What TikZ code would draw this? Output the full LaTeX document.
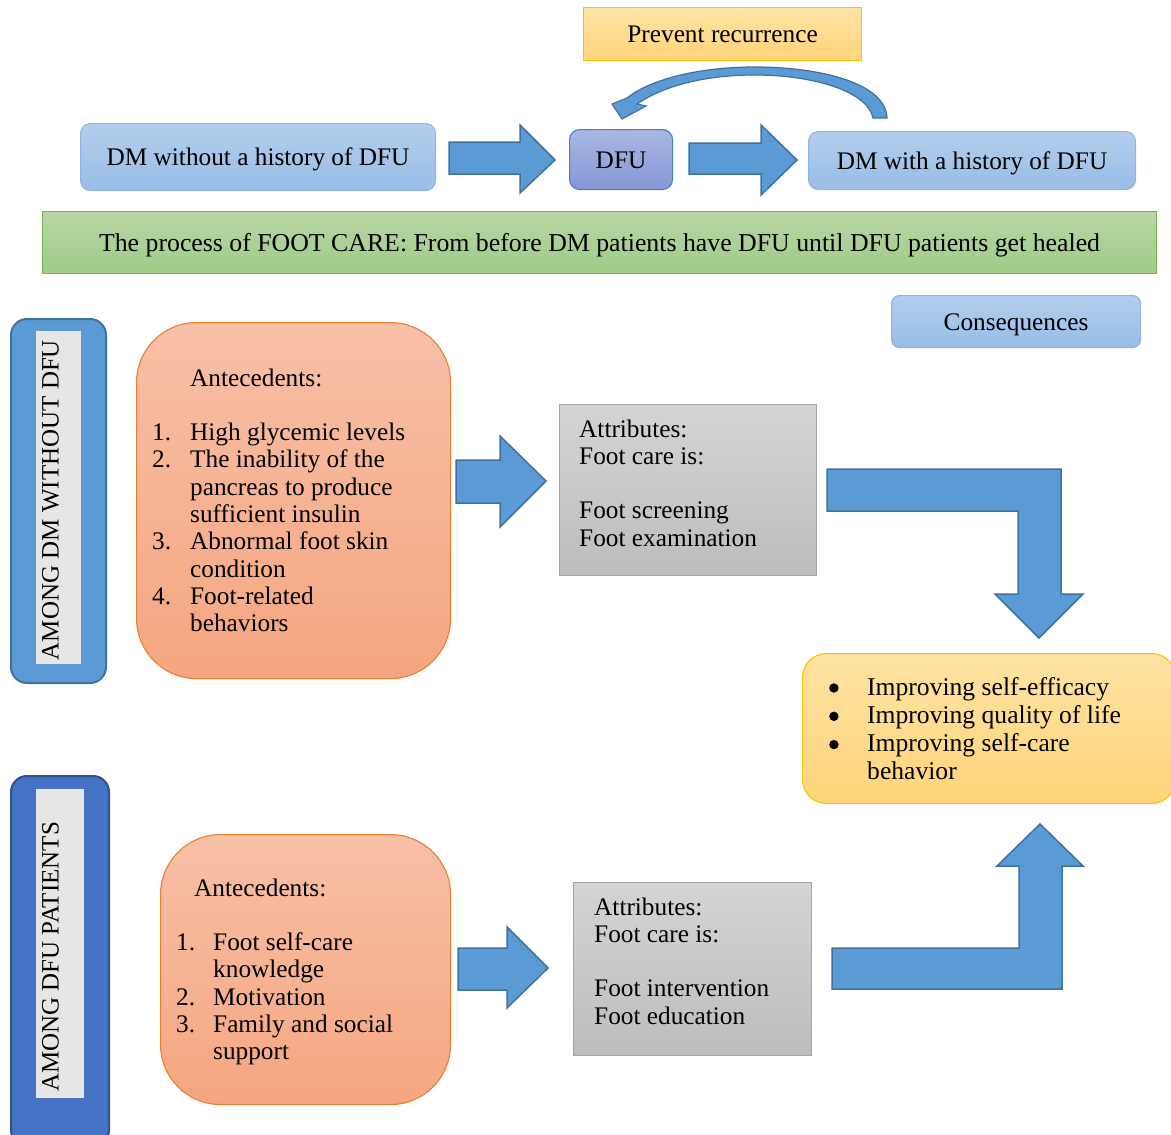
\documentclass[tikz,border=0pt]{standalone}
\usepackage{fontspec}
\setmainfont{Liberation Serif}
\definecolor{arrFill}{HTML}{5B9BD5}
\definecolor{arrLine}{HTML}{41719C}
\definecolor{sideA}{HTML}{5B9BD5}
\definecolor{sideAline}{HTML}{41719C}
\definecolor{sideB}{HTML}{4472C4}
\definecolor{sideBline}{HTML}{2F528F}
\definecolor{innerGrey}{HTML}{E7E6E6}
\definecolor{lbTop}{HTML}{B3CEEC}
\definecolor{lbBot}{HTML}{98BDE7}
\definecolor{lbLine}{HTML}{8DB4E2}
\definecolor{dfuTop}{HTML}{A9B7E3}
\definecolor{dfuBot}{HTML}{8697D5}
\definecolor{dfuLine}{HTML}{4F7BCB}
\definecolor{grTop}{HTML}{B7D7A6}
\definecolor{grBot}{HTML}{A0CB87}
\definecolor{grLine}{HTML}{77B04F}
\definecolor{orTop}{HTML}{F7C0A7}
\definecolor{orBot}{HTML}{F5A680}
\definecolor{orLine}{HTML}{ED7D31}
\definecolor{gyTop}{HTML}{D4D4D4}
\definecolor{gyBot}{HTML}{BDBDBD}
\definecolor{gyLine}{HTML}{A5A5A5}
\definecolor{ylTop}{HTML}{FFE3A3}
\definecolor{ylBot}{HTML}{FFD47B}
\definecolor{ylLine}{HTML}{FFC000}
\newcommand{\bigdot}{\tikz[baseline=0pt]\fill (4.7pt,7pt) circle[radius=4.7pt];}
\tikzset{
  box/.style={inner sep=0pt, anchor=north west, line width=1.1pt,
    text height=17.5pt, text depth=0.5pt,
    font=\fontsize{25.3}{27.3}\selectfont},
  lbluebox/.style={box, draw=lbLine, top color=lbTop, bottom color=lbBot, rounded corners=10pt},
  dfubox/.style={box, draw=dfuLine, top color=dfuTop, bottom color=dfuBot, rounded corners=10pt},
  greenbox/.style={box, draw=grLine, top color=grTop, bottom color=grBot},
  orangebox/.style={box, draw=orLine, top color=orTop, bottom color=orBot, rounded corners=60pt},
  greybox/.style={box, draw=gyLine, top color=gyTop, bottom color=gyBot},
  yellowbox/.style={box, draw=ylLine, top color=ylTop, bottom color=ylBot},
  sideboxA/.style={box, draw=sideAline, fill=sideA, line width=2pt, rounded corners=16pt},
  sideboxB/.style={box, draw=sideBline, fill=sideB, line width=2pt, rounded corners=16pt},
  innerbox/.style={box, draw=none, fill=innerGrey},
  sidetext/.style={inner sep=0pt, rotate=90, font=\fontsize{25}{30}\selectfont},
  listtext/.style={inner sep=0pt, anchor=base west, font=\fontsize{25.3}{27.3}\selectfont},
  blockarrow/.style={fill=arrFill, draw=arrLine, line width=1.5pt, line join=miter},
}
\begin{document}
\begin{tikzpicture}[x=1pt,y=-1pt]
\useasboundingbox (0,0) rectangle (1171,1135);

% top row
\node[yellowbox, minimum width=278pt, minimum height=53pt] (prev) at (583,7) {Prevent recurrence};
\node[lbluebox, minimum width=355pt, minimum height=67pt] (dmwo) at (80,123) {DM without a history of DFU};
\node[dfubox, minimum width=103pt, minimum height=60pt] (dfu) at (569,129) {DFU};
\node[lbluebox, minimum width=327pt, minimum height=58pt] (dmw) at (808,131) {DM with a history of DFU};

% curved arrow (prevent recurrence)
\draw[blockarrow, line width=1.2pt]
  (887,118) .. controls (886,83) and (820,67) .. (755,67)
  .. controls (690,67) and (645,83) .. (627,98)
  -- (612,104) -- (622,119) -- (646,106) -- (637,104)
  .. controls (660,88) and (700,75) .. (755,75)
  .. controls (815,75) and (868,92) .. (873,118) -- cycle;

% straight block arrows top
\draw[blockarrow] (449,142) -- (520,142) -- (520,125) -- (555,160) -- (520,193) -- (520,174) -- (449,174) -- cycle;
\draw[blockarrow] (689,143) -- (761,143) -- (761,125) -- (797,160) -- (761,195) -- (761,174) -- (689,174) -- cycle;

% green bar
\node[greenbox, minimum width=1114pt, minimum height=62pt, font=\fontsize{25.8}{27.3}\selectfont] (proc) at (42,211)
  {The process of FOOT CARE: From before DM patients have DFU until DFU patients get healed};

% consequences
\node[lbluebox, rounded corners=8pt, minimum width=249pt, minimum height=52pt] (cons) at (891,295) {Consequences};

% side boxes
\node[sideboxA, minimum width=95pt, minimum height=364pt] (side1) at (10,318) {};
\node[innerbox, minimum width=45pt, minimum height=333pt] (inner1) at (35,330) {};
\node[sidetext] (side1t) at (50.5,500) {AMONG DM WITHOUT DFU};

\node[sideboxB, minimum width=98pt, minimum height=370pt] (side2) at (10,775) {};
\node[innerbox, minimum width=48pt, minimum height=309pt] (inner2) at (35,788) {};
\node[sidetext] (side2t) at (50.5,957) {AMONG DFU PATIENTS};

% antecedents 1
\node[orangebox, minimum width=314pt, minimum height=356pt] (ante1) at (136,322) {};
\node[listtext] (ante1t) at (152,386) {\begin{tabular}[t]{@{}l@{}}
\hspace*{38pt}Antecedents:\\
\\
\makebox[38pt][l]{1.}High glycemic levels\\
\makebox[38pt][l]{2.}The inability of the\\
\hspace*{38pt}pancreas to produce\\
\hspace*{38pt}sufficient insulin\\
\makebox[38pt][l]{3.}Abnormal foot skin\\
\hspace*{38pt}condition\\
\makebox[38pt][l]{4.}Foot-related\\
\hspace*{38pt}behaviors
\end{tabular}};

% attributes 1
\node[greybox, minimum width=257pt, minimum height=171pt] (attr1) at (559,404) {};
\node[listtext] (attr1t) at (579,437) {\begin{tabular}[t]{@{}l@{}}
Attributes:\\
Foot care is:\\
\\
Foot screening\\
Foot examination
\end{tabular}};

% arrow ante1 -> attr1
\draw[blockarrow] (456,460) -- (500,460) -- (500,436) -- (546,481) -- (500,527) -- (500,503) -- (456,503) -- cycle;

% bent arrow down
\draw[blockarrow] (827,469) -- (1061,469) -- (1061,594) -- (1083,594) -- (1039,638) -- (995,594) -- (1018,594) -- (1018,511) -- (827,511) -- cycle;

% outcomes
\node[yellowbox, rounded corners=24pt, minimum width=373pt, minimum height=150pt] (outc) at (802,653) {};
\node[listtext, font=\fontsize{25.6}{28.3}\selectfont] (outct) at (829,695) {\begin{tabular}[t]{@{}l@{}}
\makebox[38pt][l]{\bigdot}Improving self-efficacy\\
\makebox[38pt][l]{\bigdot}Improving quality of life\\
\makebox[38pt][l]{\bigdot}Improving self-care\\
\hspace*{38pt}behavior
\end{tabular}};

% antecedents 2
\node[orangebox, minimum width=290pt, minimum height=270pt] (ante2) at (160,834) {};
\node[listtext] (ante2t) at (176,896) {\begin{tabular}[t]{@{}l@{}}
\hspace*{18pt}Antecedents:\\
\\
\makebox[37pt][l]{1.}Foot self-care\\
\hspace*{37pt}knowledge\\
\makebox[37pt][l]{2.}Motivation\\
\makebox[37pt][l]{3.}Family and social\\
\hspace*{37pt}support
\end{tabular}};

% attributes 2
\node[greybox, minimum width=238pt, minimum height=173pt] (attr2) at (573,882) {};
\node[listtext] (attr2t) at (594,915) {\begin{tabular}[t]{@{}l@{}}
Attributes:\\
Foot care is:\\
\\
Foot intervention\\
Foot education
\end{tabular}};

% arrow ante2 -> attr2
\draw[blockarrow] (458,948) -- (507,948) -- (507,927) -- (548,968) -- (507,1008) -- (507,990) -- (458,990) -- cycle;

% bent arrow up
\draw[blockarrow] (832,948) -- (1019,948) -- (1019,866) -- (997,866) -- (1040,824) -- (1083,866) -- (1062,866) -- (1062,989) -- (832,989) -- cycle;
\end{tikzpicture}
\end{document}
